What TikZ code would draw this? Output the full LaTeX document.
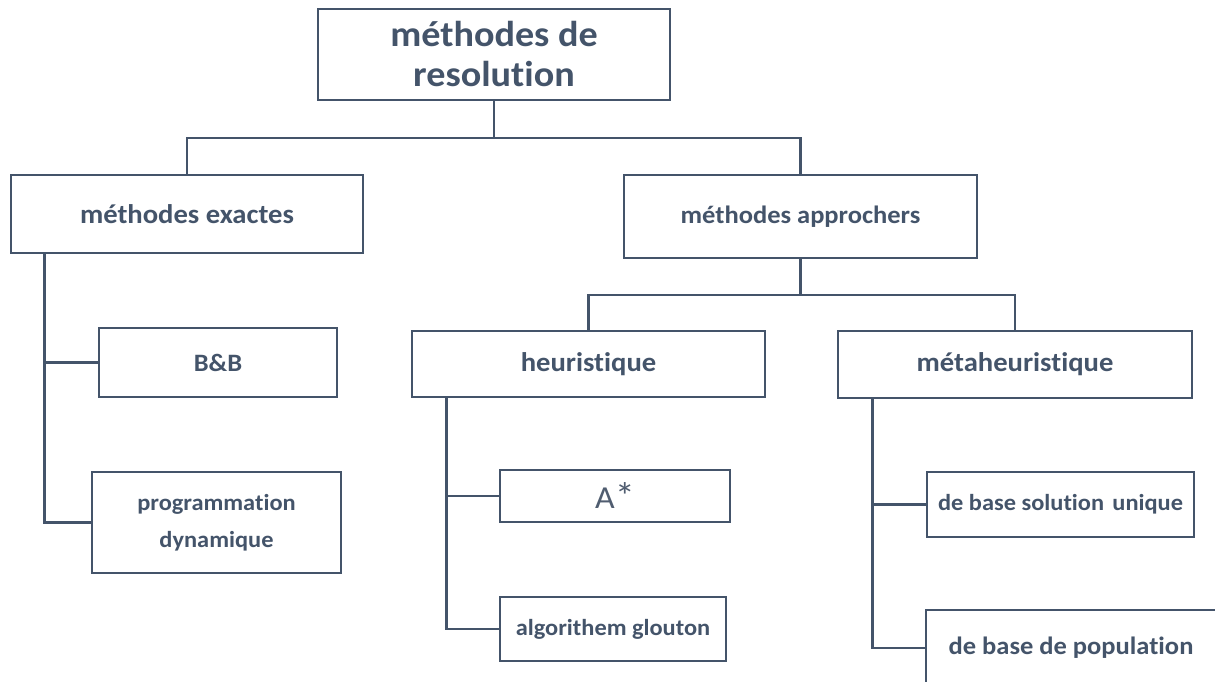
\documentclass[tikz,border=0pt]{standalone}
\usepackage{fontspec}
\setmainfont{Carlito}[FakeStretch=1.06, Ligatures=NoCommon]
\definecolor{slate}{HTML}{44546A}
\definecolor{slatelt}{HTML}{505D70}
\tikzset{
  box/.style={draw=slate, line width=2.7pt, fill=white, text=slate, font=\bfseries, align=center, inner sep=0pt},
  link/.style={draw=slate, line width=2.7pt},
}
\begin{document}
\begin{tikzpicture}[x=1pt,y=-1pt]
\useasboundingbox (0,0) rectangle (1215,682);
\clip (0,0) rectangle (1215,682);
\fill[white] (0,0) rectangle (1215,682);
% nodes
\node[box, minimum width=352, minimum height=91, font=\bfseries\fontsize{36}{40}\selectfont] (top) at (494,54.5) {méthodes de\\resolution};
\node[box, minimum width=352, minimum height=78, font=\bfseries\fontsize{27}{32}\selectfont] (exact) at (187,214) {méthodes exactes};
\node[box, minimum width=353, minimum height=83, font=\bfseries\fontsize{25}{30}\selectfont] (appr) at (800.5,216.5) {méthodes approchers};
\node[box, minimum width=238, minimum height=69, font=\bfseries\fontsize{25}{30}\selectfont] (bb) at (218,362.5) {B\&B};
\node[box, minimum width=249, minimum height=101, font=\bfseries\fontsize{23}{37}\selectfont] (prog) at (216.5,522.5) {programmation\\dynamique};
\node[box, minimum width=353, minimum height=66, font=\bfseries\fontsize{27}{32}\selectfont] (heur) at (588.5,364) {heuristique};
\node[box, minimum width=354, minimum height=67, font=\bfseries\fontsize{27}{32}\selectfont] (meta) at (1015,364.5) {métaheuristique};
\node[box, minimum width=230, minimum height=52, font=\mdseries\fontsize{32}{36}\selectfont, text=slatelt] (astar) at (615,496) {A\raisebox{-1pt}{\fontsize{38}{36}\selectfont *}};
\node[box, minimum width=226, minimum height=64, font=\bfseries\fontsize{23}{28}\selectfont] (glout) at (613,629) {algorithem glouton};
\node[box, minimum width=267, minimum height=65, font=\bfseries\fontsize{23}{28}\selectfont] (sol) at (1060.5,504.5) {de base solution\hspace{0.12em} unique};
\node[box, minimum width=290, minimum height=76, font=\bfseries\fontsize{25}{30}\selectfont] (pop) at (1071,648) {de base de population};
% connectors
\coordinate (j1) at (top.south |- 0,138);
\coordinate (j2) at (appr.south |- 0,295);
\draw[link] (top.south) -- (j1) -| (exact.north);
\draw[link] (j1) -| (appr.north);
\draw[link] (appr.south) -- (j2) -| (heur.north);
\draw[link] (j2) -| (meta.north);
\draw[link] ([xshift=35]exact.south west) |- (bb.west);
\draw[link] ([xshift=35]exact.south west) |- (prog.west);
\draw[link] ([xshift=36]heur.south west) |- (astar.west);
\draw[link] ([xshift=36]heur.south west) |- (glout.west);
\draw[link] ([xshift=36]meta.south west) |- (sol.west);
\draw[link] ([xshift=36]meta.south west) |- (pop.west);
\end{tikzpicture}
\end{document}
